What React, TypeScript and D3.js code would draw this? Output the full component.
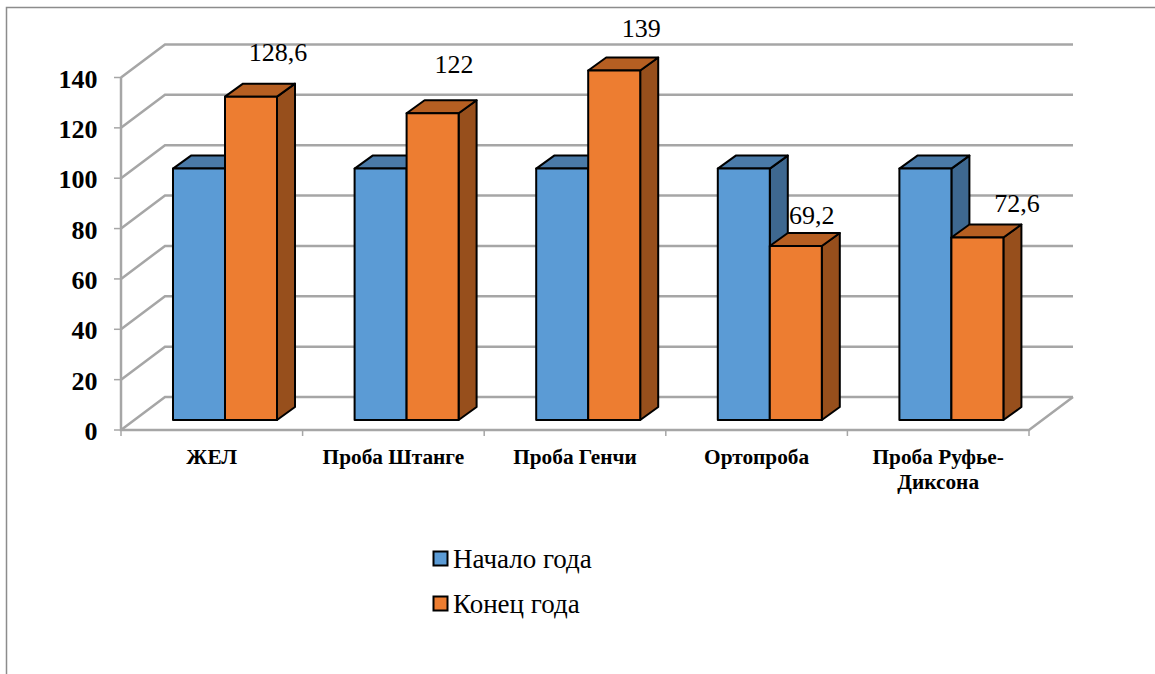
import React from "react";
import * as d3 from "d3";

const categories = ["ЖЕЛ", "Проба Штанге", "Проба Генчи", "Ортопроба", "Проба Руфье-Диксона"];
const startOfYear = [100, 100, 100, 100, 100];
const endOfYear = [128.6, 122, 139, 69.2, 72.6];
const endLabels = ["128,6", "122", "139", "69,2", "72,6"];
const yTicks = [0, 20, 40, 60, 80, 100, 120, 140];
const seriesNames = ["Начало года", "Конец года"];

const FONT = "'Liberation Serif', 'Times New Roman', serif";
const GRID = "#a6a6a6";

const palette = [
  { front: "#5b9bd5", top: "#4a7aa8", side: "#3e6890" },
  { front: "#ed7d31", top: "#b65f22", side: "#974f1c" },
];

// Floor front edge and the oblique offset of the back wall.
const wallDx = 44;
const wallDy = -33;
const barDx = 18;
const barDy = -13;

const x = d3.scaleBand<string>().domain(categories).range([121, 1029]).paddingInner(0).paddingOuter(0);
const y = d3.scaleLinear().domain([0, 140]).range([430, 77.5]);
// Bars stand on a plane lifted off the front edge of the floor.
const barY = d3.scaleLinear().domain([0, 140]).range([420, 68]);
const series = d3.scaleBand<string>().domain(seriesNames).range([0, 104]);

// Hand-placed label offsets from the bar's top edge, as in the source layout.
const labelNudge = [
  { dx: 53, dy: -36 },
  { dx: 47.5, dy: -40 },
  { dx: 53, dy: -34 },
  { dx: 42, dy: -22 },
  { dx: 65.5, dy: -25.5 },
];

const Bar = ({ left, width, value, colors }: { left: number; width: number; value: number; colors: typeof palette[0] }) => {
  const t = barY(value);
  const b = barY(0);
  const r = left + width;
  const line = d3.line();
  const stroke = { stroke: "#000", strokeWidth: 2, strokeLinejoin: "round" as const };
  return (
    <g>
      <path
        d={line([[r, t], [r + barDx, t + barDy], [r + barDx, b + barDy], [r, b]]) + "Z"}
        fill={colors.side}
        {...stroke}
      />
      <path
        d={line([[left, t], [left + barDx, t + barDy], [r + barDx, t + barDy], [r, t]]) + "Z"}
        fill={colors.top}
        {...stroke}
      />
      <rect x={left} y={t} width={width} height={b - t} fill={colors.front} {...stroke} />
    </g>
  );
};

export default function App() {
  const [x0, x1] = x.range();
  const rows = [startOfYear, endOfYear];
  return (
    <svg
      width={1155}
      height={674}
      style={{ position: "absolute", left: 0, top: 0, background: "#fff" }}
      fontFamily={FONT}
    >
      <path d="M6.5,674V7.5H1155" fill="none" stroke="#8c8c8c" strokeWidth={1.5} />

      {/* back wall and side wall grid */}
      <g fill="none" stroke={GRID} strokeWidth={2.5}>
        {yTicks.map((t) => (
          <path
            key={t}
            d={`M${x0},${y(t)}L${x0 + wallDx},${y(t) + wallDy}H${x1 + wallDx}`}
          />
        ))}
        <path d={`M${x0},${y(140)}V${y(0)}H${x1}L${x1 + wallDx},${y(0) + wallDy}`} />
      </g>

      {/* axis tick marks */}
      <g stroke={GRID} strokeWidth={1.5}>
        {yTicks.map((t) => (
          <line key={t} x1={x0 - 7} x2={x0} y1={y(t)} y2={y(t)} />
        ))}
        {categories.map((c) => (
          <line key={c} x1={x(c)!} x2={x(c)!} y1={y(0)} y2={y(0) + 6} />
        ))}
        <line x1={x1} x2={x1} y1={y(0)} y2={y(0) + 6} />
      </g>

      {categories.map((c, i) => {
        const left = x(c)! + 52;
        return (
          <g key={c}>
            {rows.map((vals, s) => (
              <Bar
                key={s}
                left={left + series(seriesNames[s])!}
                width={series.bandwidth()}
                value={vals[i]}
                colors={palette[s]}
              />
            ))}
          </g>
        );
      })}

      {/* value labels on the second series */}
      <g fontSize={26} textAnchor="middle" fill="#000">
        {categories.map((c, i) => (
          <text
            key={c}
            x={x(c)! + 52 + series(seriesNames[1])! + labelNudge[i].dx}
            y={barY(endOfYear[i]) + labelNudge[i].dy}
          >
            {endLabels[i]}
          </text>
        ))}
      </g>

      <g fontSize={26} fontWeight={700} textAnchor="end" fill="#000">
        {yTicks.map((t) => (
          <text key={t} x={97.5} y={y(t) + 10}>
            {t}
          </text>
        ))}
      </g>

      <g fontSize={21.3} fontWeight={700} textAnchor="middle" fill="#000">
        {categories.map((c) => {
          const cx = x(c)! + x.bandwidth() / 2;
          if (c === "Проба Руфье-Диксона") {
            return (
              <text key={c}>
                <tspan x={cx} y={464}>Проба Руфье-</tspan>
                <tspan x={cx} y={489}>Диксона</tspan>
              </text>
            );
          }
          return (
            <text key={c} x={cx} y={464}>
              {c}
            </text>
          );
        })}
      </g>

      {/* legend */}
      <g>
        {seriesNames.map((name, i) => {
          const ly = 559 + i * 45;
          return (
            <g key={name}>
              <rect x={433.5} y={ly - 7.5} width={14} height={14} fill={palette[i].front} stroke="#000" strokeWidth={2} />
              <text x={453} y={ly + 9} fontSize={27} fill="#000">
                {name}
              </text>
            </g>
          );
        })}
      </g>
    </svg>
  );
}
